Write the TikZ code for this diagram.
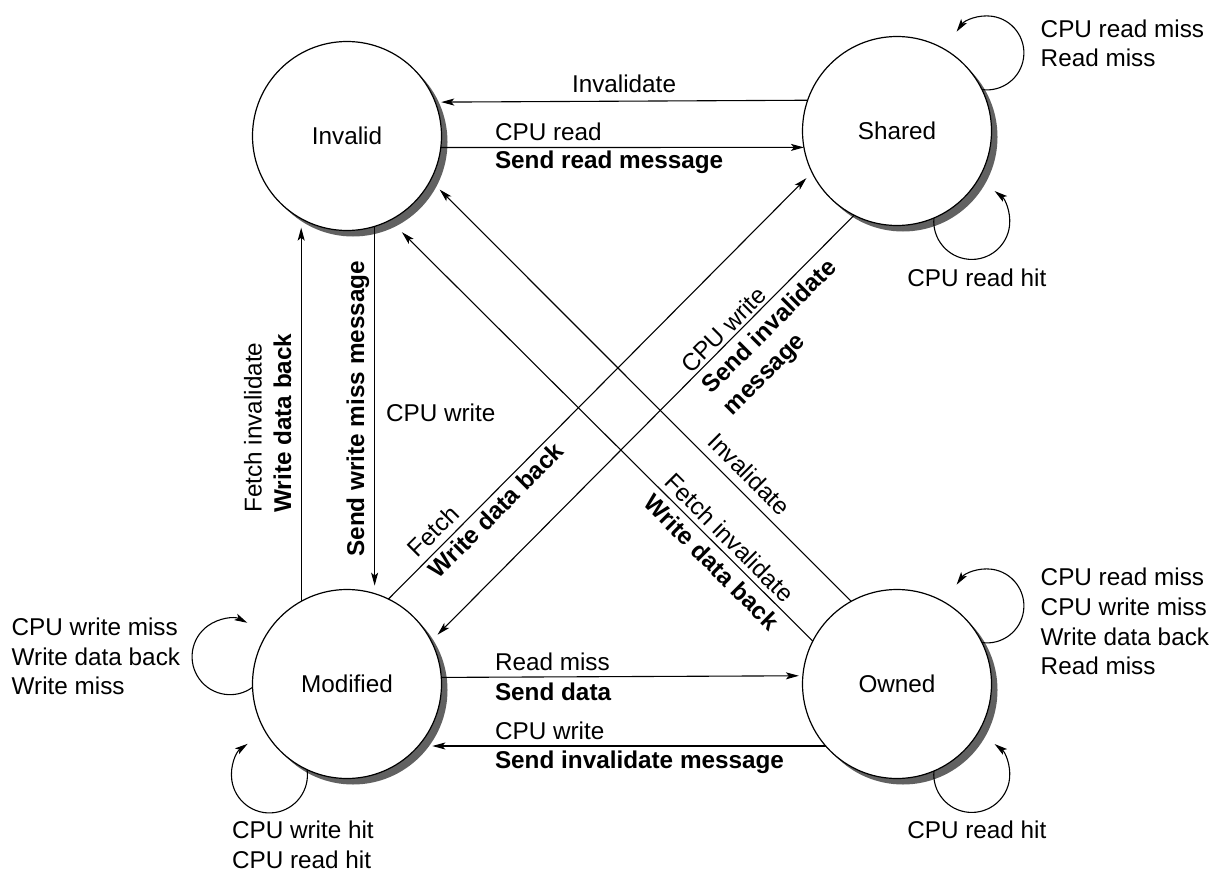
\documentclass[tikz,border=0pt]{standalone}
\usepackage{fontspec}
\setmainfont{Liberation Sans}
\usetikzlibrary{arrows.meta}
\newcommand{\labsize}{\fontsize{24.3pt}{29.5pt}\selectfont}
\begin{document}
\begin{tikzpicture}[x=1pt,y=1pt,
  state/.style={circle, draw, line width=1.2pt, fill=white, minimum size=189pt,
    inner sep=0pt, outer sep=0pt, font=\labsize},
  castshadow/.style={fill=black!62, draw=none},
  arr/.style={line width=1.1pt, -{Stealth[length=13pt,width=7pt,inset=3pt]}},
  lab/.style={anchor=base west, inner sep=0pt, outer sep=0pt, font=\labsize},
  bl/.style={anchor=base west, inner sep=0pt, outer sep=0pt, font=\labsize\bfseries}]

% white canvas
\fill[white] (0,0) rectangle (1220,-872);
\useasboundingbox (0,0) rectangle (1220,-872);

% offset shadows, drawn before the states that cover them
\fill[castshadow] (353,-142) circle[radius=94.5];
\fill[castshadow] (903,-137) circle[radius=94.5];
\fill[castshadow] (353,-690) circle[radius=94.5];
\fill[castshadow] (903,-690) circle[radius=94.5];

% states
\node[state] (I) at (347,-136) {Invalid};
\node[state] (S) at (897,-131) {Shared};
\node[state] (M) at (347,-684) {Modified};
\node[state] (O) at (897,-684) {Owned};

% horizontal transitions
\draw[arr, shorten >=6pt] (S.161.9) -- (I.21.3);
\draw[arr] (I.-7.5) -- (S.190.5);
\draw[arr, shorten >=4pt] (M.4.9) -- (O.175.1);
\draw[arr, shorten >=14pt] (O.221) -- (M.-41);

% vertical transitions
\draw[arr, shorten >=9pt] (M.119.8) -- (I.-119.8);
\draw[arr, shorten >=8pt] (I.-73.8) -- (M.73.8);

% diagonal transitions
\draw[arr, shorten >=8pt] (M.64.8) -- (S.206.2);
\draw[arr, shorten >=9pt] (S.243.9) -- (M.27.4);
\draw[arr, shorten >=13pt] (O.119.7) -- (I.-28.8);
\draw[arr, shorten >=17pt] (O.153.9) -- (I.-63);

% self loops
\draw[arr] (S.26.8) arc[start angle=-97.7, end angle=145, radius=37];
\draw[arr] (S.-67.8) arc[start angle=174.8, end angle=413, radius=38];
\draw[arr] (O.26.8) arc[start angle=-97.7, end angle=145, radius=37];
\draw[arr] (O.-67.8) arc[start angle=174.8, end angle=413, radius=38];
\draw[arr] (M.182.8) arc[start angle=-53.7, end angle=-297, radius=38];
\draw[arr] (M.245) arc[start angle=8, end angle=-235, radius=38];

% labels of horizontal transitions
\node[lab] (tInv) at (572,-93) {Invalidate};
\node[lab] (tCR) at (495,-140) {CPU read};
\node[bl] (tSRM) at (495,-168) {Send read message};
\node[lab] (tRM) at (495,-670) {Read miss};
\node[bl] (tSD) at (495,-700) {Send data};
\node[lab] (tCW) at (495,-739) {CPU write};
\node[bl] (tSIM) at (495,-768) {Send invalidate message};

% labels of vertical transitions
\node[lab, rotate=90] (vFI) at (261.5,-512.7) {Fetch invalidate};
\node[bl, rotate=90] (vWDB) at (291,-512.7) {Write data back};
\node[bl, rotate=90] (vSWM) at (364,-556.7) {Send write miss message};
\node[lab] (vCW) at (386,-421.7) {CPU write};

% labels of diagonal transitions
\node[lab, rotate=45] (aF) at (417.9,-558.6) {Fetch};
\node[bl, rotate=45] (aWDB) at (438.8,-579.5) {Write data back};
\node[lab, rotate=45] (bCW) at (691,-374.3) {CPU write};
\node[bl, rotate=45] (bSI) at (711.6,-394.8) {Send invalidate};
\node[bl, rotate=45] (bM) at (732.8,-416) {message};
\node[lab, rotate=-45] (cInv) at (706.4,-443.4) {Invalidate};
\node[lab, rotate=-45] (dFI) at (663.3,-483.7) {Fetch invalidate};
\node[bl, rotate=-45] (dWDB) at (642.1,-504.9) {Write data back};

% labels of self loops
\node[lab] (sA1) at (1040.7,-37.3) {CPU read miss};
\node[lab] (sA2) at (1040.7,-66.7) {Read miss};
\node[lab] (sB1) at (907.3,-286.7) {CPU read hit};
\node[lab] (oA1) at (1040.7,-585) {CPU read miss};
\node[lab] (oA2) at (1040.7,-615) {CPU write miss};
\node[lab] (oA3) at (1040.7,-645) {Write data back};
\node[lab] (oA4) at (1040.7,-674) {Read miss};
\node[lab] (oB1) at (907.3,-838) {CPU read hit};
\node[lab] (mA1) at (11.7,-635) {CPU write miss};
\node[lab] (mA2) at (11.7,-665) {Write data back};
\node[lab] (mA3) at (11.7,-694) {Write miss};
\node[lab] (mB1) at (232,-838) {CPU write hit};
\node[lab] (mB2) at (232,-868) {CPU read hit};
\end{tikzpicture}
\end{document}
